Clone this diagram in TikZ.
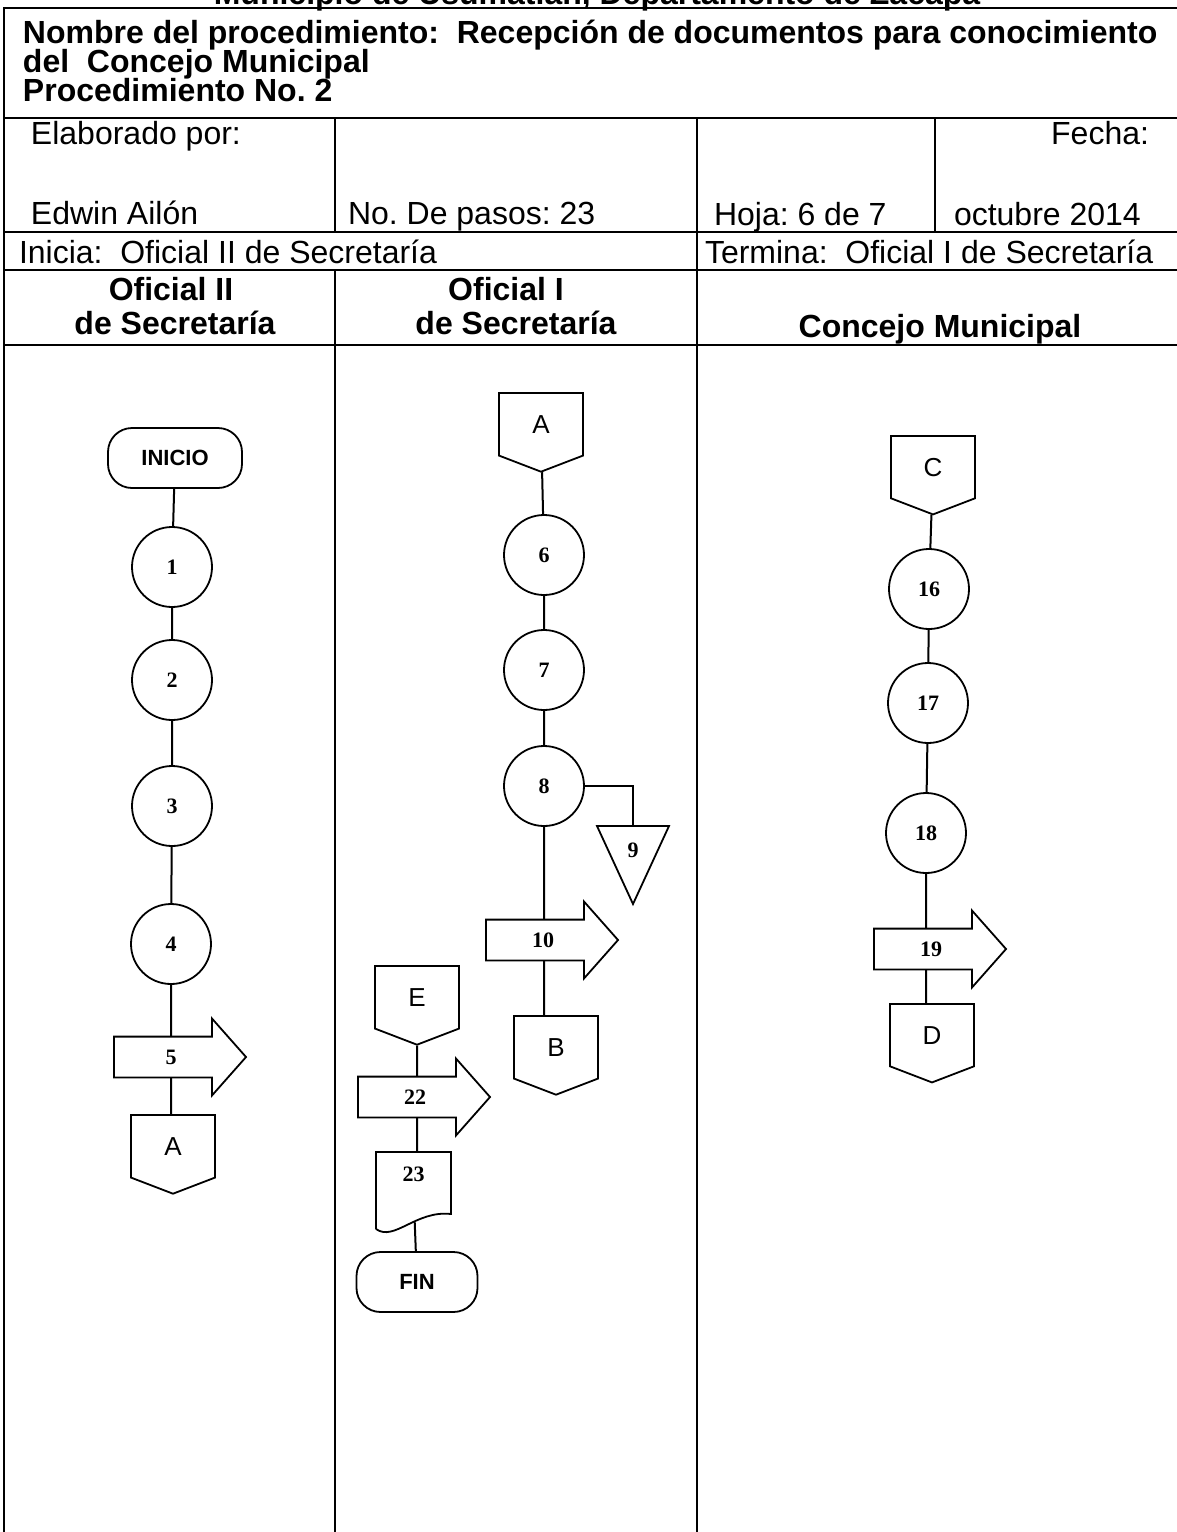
\documentclass[tikz,border=0pt]{standalone}
\usepackage{fontspec}
\setmainfont{Liberation Sans}
\newfontfamily\numfont{Liberation Serif}
\usetikzlibrary{shapes.symbols,shapes.arrows,backgrounds,calc}
\frenchspacing

\tikzset{
  celda/.style={anchor=base west, inner sep=0pt, font=\fontsize{16}{19}\selectfont},
  titulo/.style={anchor=base west, inner sep=0pt, font=\fontsize{16}{19}\selectfont\bfseries},
  columna/.style={anchor=base, inner sep=0pt, font=\fontsize{16}{19}\selectfont\bfseries},
  paso/.style={circle, draw, line width=0.9pt, fill=white, minimum size=40pt, inner sep=0pt, font=\numfont\bfseries\fontsize{11}{13}\selectfont},
  extremo/.style={rectangle, rounded corners=12pt, draw, line width=0.9pt, fill=white, minimum height=30pt, inner sep=0pt, font=\fontsize{11}{13}\selectfont\bfseries},
  conector/.style={signal, signal to=south, signal from=nowhere, signal pointer angle=138, draw, line width=0.9pt, fill=white, minimum width=42pt, minimum height=33pt, inner sep=0pt, font=\fontsize{13}{15}\selectfont},
  traslado/.style={single arrow, draw, line width=0.9pt, fill=white, single arrow head extend=9pt, single arrow tip angle=97, minimum height=66pt, text height=7pt, text depth=0pt, inner ysep=6.25pt, font=\numfont\bfseries\fontsize{11}{13}\selectfont},
  marca/.style={inner sep=0pt, minimum width=35pt, minimum height=38pt, text height=7pt, text depth=15pt, font=\numfont\bfseries\fontsize{11}{13}\selectfont},
  hoja/.style={inner sep=0pt, minimum width=36.5pt, minimum height=37.5pt, text height=7pt, text depth=16.5pt, font=\numfont\bfseries\fontsize{11}{13}\selectfont},
}

\begin{document}
\begin{tikzpicture}[x=0.5pt, y=-0.5pt, line width=1pt]
\useasboundingbox (0,0) rectangle (1177,1532);

% 表格
\draw (1177,8) -- (4,8) -- (4,1532);
\draw (4,118) -- (1177,118);
\draw (4,232) -- (1177,232);
\draw (4,270) -- (1177,270);
\draw (4,345) -- (1177,345);
\draw (335,118) -- (335,232);
\draw (335,270) -- (335,1532);
\draw (697,118) -- (697,1532);
\draw (935,118) -- (935,232);

% 标题
\node[titulo, anchor=base] (muni) at (597,4) {Municipio de Usumatlán, Departamento de Zacapa};
\node[titulo] (nombre) at (22,43) {Nombre del procedimiento:\ \ Recepción de documentos para conocimiento};
\node[titulo] (nombre2) at (22,72) {del\ \ Concejo Municipal};
\node[titulo] (numero) at (22,101) {Procedimiento No. 2};

% 表头文字
\node[celda] (elab) at (30,144) {Elaborado por:};
\node[celda, anchor=base east] (fecha) at (1150,144) {Fecha:};
\node[celda] (autor) at (30,224) {Edwin Ailón};
\node[celda] (pasos) at (347,224) {No. De pasos: 23};
\node[celda] (hoja) at (713,225) {Hoja: 6 de 7};
\node[celda] (mes) at (953,225) {octubre 2014};
\node[celda] (inicia) at (18,263) {Inicia:\ \ Oficial II de Secretaría};
\node[celda] (termina) at (704,263) {Termina:\ \ Oficial I de Secretaría};
\node[columna] (col1a) at (171,300) {Oficial II};
\node[columna] (col1b) at (175,334) {de Secretaría};
\node[columna] (col2a) at (506,300) {Oficial I};
\node[columna] (col2b) at (516,334) {de Secretaría};
\node[columna] (col3) at (940,337) {Concejo Municipal};

% Oficial II
\node[extremo, minimum width=67pt] (inicio) at (175,458) {INICIO};
\node[paso] (c1) at (172,567) {1};
\node[paso] (c2) at (172,680) {2};
\node[paso] (c3) at (172,806) {3};
\node[paso] (c4) at (171,944) {4};
\node[traslado] (p5) at (171,1057) {5};
\node[conector, anchor=north] (conA1) at (173,1114) {A};

% Oficial I
\node[conector, anchor=north] (conA2) at (541,392) {A};
\node[paso] (c6) at (544,555) {6};
\node[paso] (c7) at (544,670) {7};
\node[paso] (c8) at (544,786) {8};
\node[marca, anchor=north] (t9) at (633,826) {9};
\node[traslado] (p10) at (543,940) {10};
\node[conector, anchor=north] (conB) at (556,1015) {B};
\node[conector, anchor=north] (conE) at (417,965) {E};
\node[traslado] (p22) at (415,1097) {22};
\node[hoja, anchor=north] (doc23) at (413.5,1152) {23};
\node[extremo, minimum width=60.5pt] (fin) at (417,1282) {FIN};

% Concejo Municipal
\node[conector, anchor=north] (conC) at (933,435) {C};
\node[paso] (c16) at (929,589) {16};
\node[paso] (c17) at (928,703) {17};
\node[paso] (c18) at (926,833) {18};
\node[traslado] (p19) at (931,949) {19};
\node[conector, anchor=north] (conD) at (932,1003) {D};

% 连线及特殊形状
\begin{scope}[on background layer={line width=1pt}]
\draw (inicio) -- (c1) -- (c2) -- (c3) -- (c4) -- (c4 |- p5) -- (c4 |- conA1.north);
\draw (conA2) -- (c6) -- (c7) -- (c8) -- (c8 |- p10) -- (c8 |- conB.north);
\draw (c8) -| (t9.north);
\draw (conE) -- (conE |- p22) -- (conE |- doc23);
\draw (doc23.center) -- (fin);
\draw (conC) -- (c16) -- (c17) -- (c18) -- (c18 |- p19) -- (c18 |- conD.north);
\draw[line width=0.9pt, fill=white] (t9.north west) -- (t9.north east) -- (t9.south) -- cycle;
\draw[line width=0.9pt, fill=white] (doc23.south west) -- (doc23.north west) -- (doc23.north east)
  -- ($(doc23.south east)+(0,-15)$) .. controls ($(doc23.south east)+(-35,-19)$) and ($(doc23.south west)+(18,13)$) .. (doc23.south west);
\end{scope}
\end{tikzpicture}
\end{document}
